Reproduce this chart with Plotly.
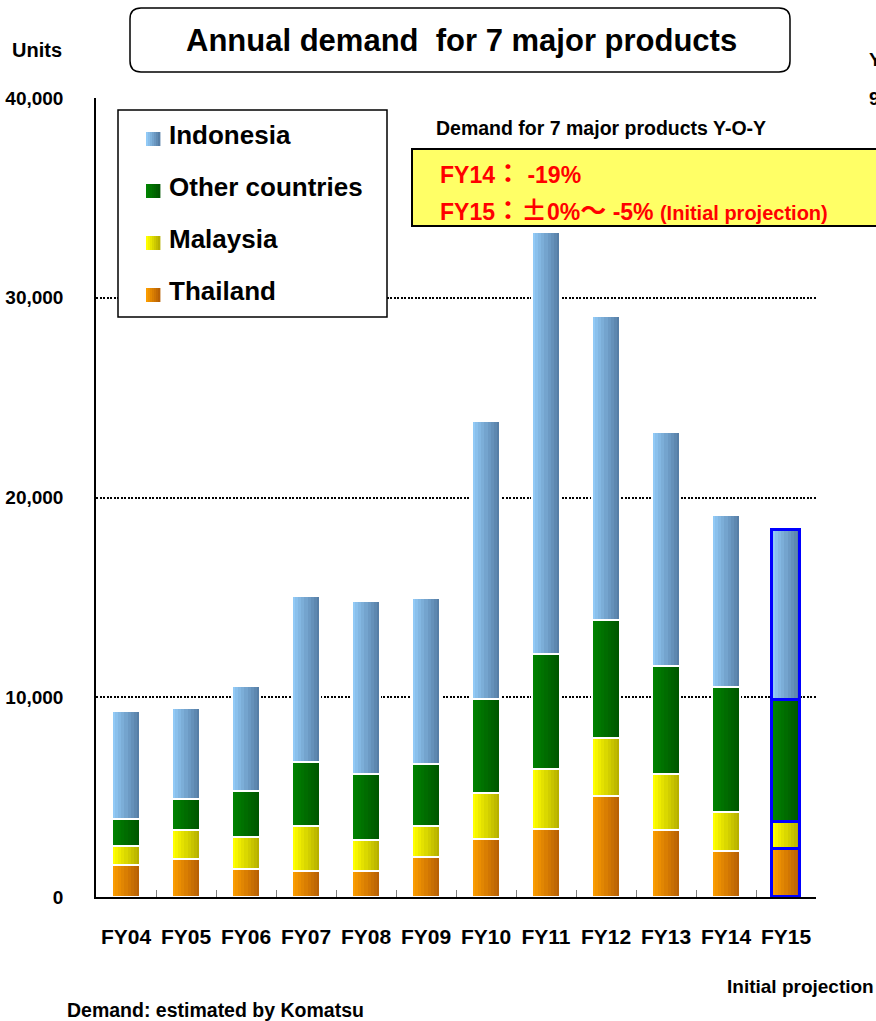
import plotly.graph_objects as go

# ---- data -------------------------------------------------------------
categories = ["FY04", "FY05", "FY06", "FY07", "FY08", "FY09",
              "FY10", "FY11", "FY12", "FY13", "FY14", "FY15"]
thailand = [1580, 1900, 1420, 1320, 1300, 2020, 2920, 3420, 5070, 3370, 2320, 2380]
malaysia = [990, 1430, 1600, 2250, 1550, 1530, 2270, 2980, 2900, 2800, 1920, 1350]
other_countries = [1360, 1570, 2280, 3200, 3330, 3120, 4720, 5770, 5920, 5400, 6280, 6120]
indonesia = [5390, 4550, 5280, 8280, 8620, 8280, 13900, 21130, 15220, 11730, 8580, 8500]

series_names = ["Thailand", "Malaysia", "Other countries", "Indonesia"]
series_values = [thailand, malaysia, other_countries, indonesia]

y_tick_values = [0, 10000, 20000, 30000, 40000]
y_tick_labels = ["0", "10,000", "20,000", "30,000", "40,000"]

projection_category = "FY15"

# left / right colours of the horizontal gradient of each series
gradients = {
    "Thailand": ((250, 156, 0), (184, 96, 4)),
    "Malaysia": ((255, 255, 0), (182, 176, 0)),
    "Other countries": ((0, 130, 0), (0, 86, 0)),
    "Indonesia": ((146, 202, 246), (86, 126, 166)),
}

# ---- geometry ---------------------------------------------------------
W, H = 876, 1021
L, R, T, B = 96, 816, 98, 897
FONT = "Liberation Sans Narrow, Arial Narrow, Liberation Sans, Arial, sans-serif"
CJK = "Noto Sans CJK JP"


def px(x):
    return (x - L) / (R - L)


def py(y):
    return (B - y) / (B - T)


def mix(c0, c1, t):
    return "rgb(%d,%d,%d)" % tuple(round(a + (b - a) * t) for a, b in zip(c0, c1))


fig = go.Figure()

BAR_W = 0.475
N_SLICES = 9
step = BAR_W / N_SLICES

# gradient-filled stacked segments, built from thin vertical slices
bases = [0] * len(categories)
stack_bases = []
for name, vals in zip(series_names, series_values):
    stack_bases.append(list(bases))
    c0, c1 = gradients[name]
    for k in range(N_SLICES):
        t = k / (N_SLICES - 1)
        wk = step * 1.3 if k < N_SLICES - 1 else step
        fig.add_trace(go.Bar(
            x=categories, y=vals, base=list(bases),
            width=wk, offset=-BAR_W / 2 + k * step,
            marker=dict(color=mix(c0, c1, t), line=dict(width=0)),
            showlegend=False, hoverinfo="skip",
        ))
    bases = [b + v for b, v in zip(bases, vals)]

# segment outlines: white separators, blue frame on the projected year
line_colors = ["#0000ff" if c == projection_category else "white" for c in categories]
line_widths = [3 if c == projection_category else 2 for c in categories]
for vals, base in zip(series_values, stack_bases):
    fig.add_trace(go.Bar(
        x=categories, y=vals, base=base,
        width=BAR_W, offset=-BAR_W / 2,
        marker=dict(color="rgba(0,0,0,0)", line=dict(color=line_colors, width=line_widths)),
        showlegend=False, hoverinfo="skip",
    ))

shapes = []
annotations = []


def text(x, y, s, size, color="black", xanchor="left", yanchor="middle"):
    annotations.append(dict(
        x=px(x), y=py(y), xref="paper", yref="paper", text=s, showarrow=False,
        xanchor=xanchor, yanchor=yanchor,
        font=dict(family=FONT, size=size, color=color, weight="bold"),
    ))


# title box with rounded corners
x0, x1, y0, y1, r = 130, 790, 8, 72, 11
path = (f"M {px(x0 + r)},{py(y0)} L {px(x1 - r)},{py(y0)} "
        f"Q {px(x1)},{py(y0)} {px(x1)},{py(y0 + r)} L {px(x1)},{py(y1 - r)} "
        f"Q {px(x1)},{py(y1)} {px(x1 - r)},{py(y1)} L {px(x0 + r)},{py(y1)} "
        f"Q {px(x0)},{py(y1)} {px(x0)},{py(y1 - r)} L {px(x0)},{py(y0 + r)} "
        f"Q {px(x0)},{py(y0)} {px(x0 + r)},{py(y0)} Z")
shapes.append(dict(type="path", path=path, xref="paper", yref="paper",
                   line=dict(color="black", width=1.5), fillcolor="white", layer="above"))
text(461, 41, "Annual demand  for 7 major products", 31, xanchor="center")

text(10, 50, "Units", 20)

# legend box
shapes.append(dict(type="rect", xref="paper", yref="paper",
                   x0=px(118), x1=px(387), y0=py(110), y1=py(317),
                   line=dict(color="black", width=1.5), fillcolor="white", layer="above"))
legend_rows = [("Indonesia", 135), ("Other countries", 187), ("Malaysia", 239), ("Thailand", 291)]
for name, yc in legend_rows:
    c0, c1 = gradients[name]
    n = 7
    for k in range(n):
        shapes.append(dict(type="rect", xref="paper", yref="paper",
                           x0=px(146 + k * 2), x1=px(146 + (k + 1) * 2 + 0.4),
                           y0=py(yc - 3), y1=py(yc + 11),
                           line=dict(width=0), fillcolor=mix(c0, c1, k / (n - 1)),
                           layer="above"))
    text(167, yc, name, 26)

# Y-O-Y note
text(434, 128, "Demand for 7 major products Y-O-Y", 19.5)
shapes.append(dict(type="rect", xref="paper", yref="paper",
                   x0=px(412), x1=px(900), y0=py(149), y1=py(226),
                   line=dict(color="black", width=2), fillcolor="#ffff66", layer="above"))
cjk = lambda s: f"<span style='font-family:\"{CJK}\";font-size:26px'>{s}</span>"
text(438, 172, f"FY14{cjk('：')} -19%", 23, color="#ff0000")
text(438, 208,
     f"FY15{cjk('：±')}0%{cjk('～')} -5% <span style='font-size:20px'>(Initial projection)</span>",
     23, color="#ff0000")

# partial text at the right edge
text(867, 60, "Y", 19)
text(867, 98, "9", 19)

# footnotes
text(725, 986, "Initial projection", 19)
text(65, 1010, "Demand: estimated by Komatsu", 19.5)

fig.update_layout(
    width=W, height=H,
    margin=dict(l=L, r=W - R, t=T, b=H - B, pad=0),
    paper_bgcolor="white", plot_bgcolor="white",
    barmode="overlay", bargap=0,
    showlegend=False,
    shapes=shapes, annotations=annotations,
    font=dict(family=FONT, color="black"),
    xaxis=dict(
        categoryorder="array", categoryarray=categories,
        automargin=False, tickangle=0,
        showline=True, linecolor="black", linewidth=1.5,
        ticks="inside", tickson="boundaries", ticklen=7, tickcolor="#808080", tickwidth=1,
        ticklabelstandoff=20,
        tickfont=dict(family=FONT, size=21, color="black", weight="bold"),
        showgrid=False, zeroline=False, fixedrange=True,
    ),
    yaxis=dict(
        range=[0, 40000], automargin=False,
        tickvals=y_tick_values, ticktext=y_tick_labels,
        showline=True, linecolor="black", linewidth=1.5,
        ticks="", ticklabelstandoff=27,
        tickfont=dict(family=FONT, size=19, color="black", weight="bold"),
        showgrid=True, gridcolor="black", gridwidth=1.6, griddash="2px,1.5px",
        zeroline=False, fixedrange=True,
    ),
)

fig.write_html("out.html")
